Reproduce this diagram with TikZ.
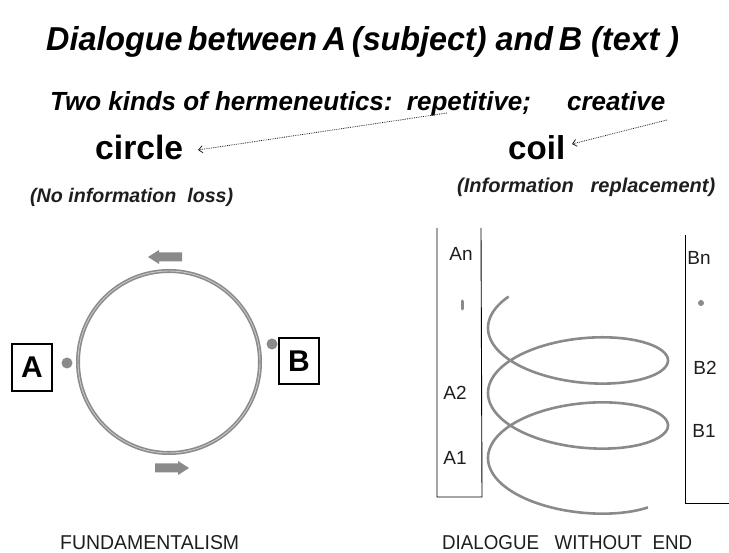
\documentclass[tikz,border=0pt]{standalone}
\usepackage{fontspec}
\setmainfont{Liberation Sans}
\usetikzlibrary{arrows.meta}
\definecolor{linegray}{HTML}{8A8A8A}
\definecolor{lightline}{HTML}{C8C8C8}
\definecolor{txtdark}{HTML}{1E1E1E}
\tikzset{
  lbl/.style={inner sep=0pt, anchor=base west, text=black},
  boxlbl/.style={draw=black, line width=1.1pt, minimum width=40pt, minimum height=47pt, inner sep=0pt, font=\fontsize{30}{30}\selectfont\bfseries},
  dotarrow/.style={densely dotted, line width=0.8pt, draw=txtdark, -{Straight Barb[length=4pt,width=7pt]}},
  blockarrow/.style={fill=linegray, draw=none},
  helixline/.style={draw=linegray, line width=2.6pt},
  plainbox/.style={draw=black, line width=0.9pt},
  smalllbl/.style={inner sep=0pt, font=\fontsize{19}{19}\selectfont, text=txtdark},
}
\begin{document}
\begin{tikzpicture}[x=1pt,y=-1pt]
\useasboundingbox (0,0) rectangle (729,553);
% titles
\node[lbl] (title) at (46,51) {\resizebox{633pt}{24pt}{\fontsize{32}{32}\selectfont\bfseries\itshape Dialogue\hspace{-0.12em} between\hspace{-0.1em} A\hspace{-0.1em} (subject) and\hspace{-0.1em} B (text )}};
\node[lbl] (kinds) at (50,111) {\resizebox{615pt}{19pt}{\fontsize{26}{26}\selectfont\bfseries\itshape Two kinds of hermeneutics:\ \ repetitive;\ \ \ \ \ creative}};
\node[lbl] (circlelbl) at (95,160) {\resizebox{88pt}{!}{\fontsize{33}{33}\selectfont\bfseries circle}};
\node[lbl] (coillbl) at (508,160) {\resizebox{57pt}{!}{\fontsize{33}{33}\selectfont\bfseries coil}};
\node[lbl, text=txtdark] (noloss) at (30,203) {\resizebox{203pt}{!}{\fontsize{20}{20}\selectfont\bfseries\itshape (No information\ \ loss)}};
\node[lbl, text=txtdark] (replace) at (457,193) {\resizebox{258pt}{!}{\fontsize{20}{20}\selectfont\bfseries\itshape (Information\ \ \ replacement)}};
% dotted arrows
\coordinate (repstart) at (447,113);
\coordinate (circletip) at (198,150);
\coordinate (crestart) at (667,120);
\coordinate (coiltip) at (572,144);
\draw[dotarrow] (repstart) -- (circletip);
\draw[dotarrow] (crestart) -- (coiltip);
% circle
\draw[draw=linegray, line width=4pt] (169,362) circle[radius=91pt];
\draw[draw=lightline, line width=0.9pt] (169,362) circle[radius=91pt];
% block arrows
\fill[blockarrow] (148,257) -- (159,250) -- (159,252.5) -- (182,252.5) -- (182,261.5) -- (159,261.5) -- (159,264) -- cycle;
\fill[blockarrow] (189,468) -- (178,461) -- (178,463.5) -- (155,463.5) -- (155,472.5) -- (178,472.5) -- (178,475) -- cycle;
% A and B
\node[boxlbl] (A) at (32,367.5) {A};
\node[boxlbl, minimum height=46pt] (B) at (299,361) {B};
\fill[linegray] (67,363) circle[radius=5.5pt];
\fill[linegray] (272,344) circle[radius=5.5pt];
% coil side boxes
\draw[plainbox] (437,228) -- (437,497) -- (482,497) -- (481,228);
\draw[plainbox] (685,235) -- (685,503) -- (729,503);
\node[smalllbl] (An) at (461,253.5) {An};
\node[smalllbl] (A2) at (455,393) {A2};
\node[smalllbl] (A1) at (455,457.5) {A1};
\node[smalllbl] (Bn) at (699,257.5) {Bn};
\node[smalllbl] (B2) at (705,367.5) {B2};
\node[smalllbl] (B1) at (704,430.5) {B1};
\draw[draw=linegray, line width=3pt, line cap=round] (462,301) -- (462,309);
\fill[linegray] (701,303) circle[radius=3pt];
% helix
\draw[helixline] plot[domain=-2.46:13.26, samples=300, smooth] ({578-90*cos(\x r)}, {458-10.35*\x-38*sin(\x r)});
% captions
\node[lbl, text=txtdark] (fund) at (60,550) {\resizebox{179pt}{14pt}{\fontsize{19}{19}\selectfont FUNDAMENTALISM}};
\node[lbl, text=txtdark] (dial) at (442,550) {\resizebox{250pt}{14pt}{\fontsize{19}{19}\selectfont DIALOGUE\ \ \ WITHOUT\ \ END}};
\end{tikzpicture}
\end{document}
